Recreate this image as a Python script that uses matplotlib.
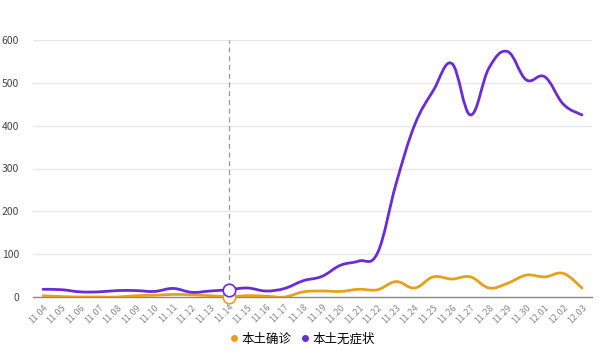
import matplotlib.pyplot as plt
from matplotlib.path import Path
from matplotlib.patches import PathPatch
import numpy as np

plt.rcParams['font.family'] = ['Noto Sans CJK SC', 'DejaVu Sans']

dates = ["11.04", "11.05", "11.06", "11.07", "11.08", "11.09", "11.10", "11.11",
         "11.12", "11.13", "11.14", "11.15", "11.16", "11.17", "11.18", "11.19",
         "11.20", "11.21", "11.22", "11.23", "11.24", "11.25", "11.26", "11.27",
         "11.28", "11.29", "11.30", "12.01", "12.02", "12.03"]
confirmed = [3, 1, 0, 0, 0, 3, 4, 6, 5, 3, 1, 3, 2, 0, 12, 14, 13, 18, 17, 36,
             21, 47, 42, 47, 21, 32, 51, 47, 55, 21]
asymptomatic = [18, 17, 12, 12, 15, 15, 13, 20, 11, 14, 17, 21, 14, 20, 38, 48,
                74, 84, 103, 265, 402, 482, 545, 425, 535, 573, 507, 514, 450, 425]

names = ["本土确诊", "本土无症状"]
colors = ["#e8a01c", "#6a2bd8"]
highlight = 10  # 11.14


def smooth_path(xs, ys, k=0.19):
    # cubic bezier through every point
    pts = np.column_stack([xs, ys]).astype(float)
    n = len(pts)
    verts = [pts[0]]
    codes = [Path.MOVETO]
    for i in range(n - 1):
        p0 = pts[max(i - 1, 0)]
        p1 = pts[i]
        p2 = pts[i + 1]
        p3 = pts[min(i + 2, n - 1)]
        c1 = p1 + (p2 - p0) * k
        c2 = p2 - (p3 - p1) * k
        verts += [c1, c2, p2]
        codes += [Path.CURVE4] * 3
    return Path(verts, codes)


fig = plt.figure(figsize=(6.02, 3.51), dpi=100)
ax = fig.add_axes([33 / 602, 54 / 351, 559 / 602, 257 / 351])

x = np.arange(len(dates))
for vals, c in zip([confirmed, asymptomatic], colors):
    ax.add_patch(PathPatch(smooth_path(x, vals), fill=False, edgecolor=c,
                           lw=2, capstyle='round', joinstyle='round', zorder=3))

# tooltip pointer
ax.axvline(highlight, color="#999999", lw=0.9, ls=(0, (4, 3)), zorder=2)
for vals, c in zip([confirmed, asymptomatic], colors):
    ax.plot(highlight, vals[highlight], 'o', ms=9, mfc='white', mec=c,
            mew=1.2, zorder=5, clip_on=False)

ax.set_xlim(-0.54, len(dates) - 0.46)
ax.set_ylim(0, 600)
ax.set_yticks(range(0, 601, 100))
ax.grid(axis='y', color="#e6e6e6", lw=0.9)
ax.set_axisbelow(True)
for s in ['top', 'right', 'left']:
    ax.spines[s].set_visible(False)
ax.spines['bottom'].set_color("#888888")
ax.spines['bottom'].set_linewidth(1)

ax.set_xticks(x)
ax.set_xticklabels(dates, rotation=45, ha='right', rotation_mode='anchor',
                   fontsize=6.5, color="#888888")
ax.tick_params(axis='x', length=0, pad=4)
ax.tick_params(axis='y', length=0, pad=10, labelsize=7.5, labelcolor="#444444")

# legend
handles = [plt.Line2D([], [], marker='o', ls='', ms=4, color=c) for c in colors]
fig.legend(handles, names, loc='center', bbox_to_anchor=(0.5, 12 / 351),
           ncol=2, frameon=False, fontsize=9, handletextpad=0.1,
           columnspacing=0.6, handlelength=1)

fig.savefig("out.png", dpi=100)
